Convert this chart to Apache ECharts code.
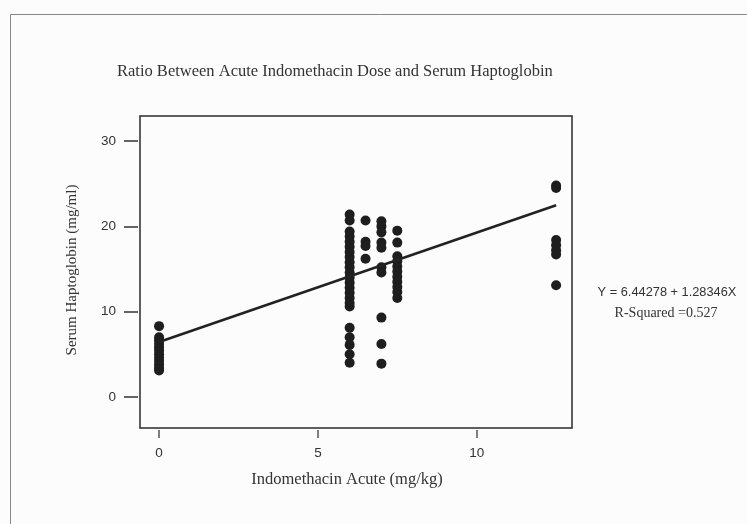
<!DOCTYPE html>
<html>
<head>
<meta charset="utf-8">
<script src="https://cdn.jsdelivr.net/npm/echarts@6/dist/echarts.min.js"></script>
<style>
  html, body { margin: 0; padding: 0; background: #fcfcfc; }
  #chart { width: 747px; height: 524px; }
</style>
</head>
<body>
<div id="chart"></div>
<script>
// Serum haptoglobin (mg/ml) by acute indomethacin dose (mg/kg)
const doses = [0, 6, 6.5, 7, 7.5, 12.5];
const dose0 = [8.3, 7.0, 6.6, 6.2, 5.8, 5.4, 5.0, 4.6, 4.2, 3.8, 3.4, 3.1];
const dose6 = [21.4, 20.7, 19.4, 18.8, 18.2, 17.6, 17.0, 16.4, 15.8, 15.2, 14.6, 14.0,
               13.4, 12.8, 12.2, 11.6, 11.0, 10.6, 8.1, 7.0, 6.1, 5.0, 4.0];
const dose6_5 = [20.7, 18.2, 17.7, 16.2];
const dose7 = [20.6, 20.0, 19.3, 18.1, 17.5, 15.2, 14.6, 9.3, 6.2, 3.9];
const dose7_5 = [19.5, 18.1, 16.5, 15.9, 15.3, 14.7, 14.1, 13.5, 12.9, 12.3, 11.6];
const dose12_5 = [24.8, 24.5, 18.4, 17.8, 17.2, 16.7, 13.1];
const groups = [dose0, dose6, dose6_5, dose7, dose7_5, dose12_5];

// Fitted line: Y = intercept + slope * X
const intercept = 6.44278;
const slope = 1.28346;
const rSquared = 0.527;
const fitRange = [0, 12.5];

const xTicks = [0, 5, 10];
const yTicks = [0, 10, 20, 30];

const points = [];
groups.forEach((vals, i) => vals.forEach(v => points.push([doses[i], v])));
const fitLine = fitRange.map(x => [x, intercept + slope * x]);

const serif = '"Liberation Serif", "DejaVu Serif", serif';
const sans = '"Liberation Sans", Arial, sans-serif';

const chart = echarts.init(document.getElementById('chart'));
chart.setOption({
  backgroundColor: '#fcfcfc',
  animation: false,
  grid: {
    left: 140, top: 116, right: 175, bottom: 96,
    show: true, borderColor: '#2a2a2a', borderWidth: 1.5, backgroundColor: 'transparent'
  },
  xAxis: {
    type: 'value', min: -0.6, max: 13.0, offset: 2,
    splitLine: { show: false },
    axisLine: { show: false, onZero: false },
    axisTick: { show: true, length: 8, lineStyle: { color: '#555', width: 1.5 }, customValues: xTicks },
    axisLabel: { color: '#333', fontFamily: sans, fontSize: 13.5, margin: 16, customValues: xTicks }
  },
  yAxis: {
    type: 'value', min: -3.65, max: 32.95, offset: 2,
    splitLine: { show: false },
    axisLine: { show: false, onZero: false },
    axisTick: { show: true, length: 14, lineStyle: { color: '#333', width: 1.5 }, customValues: yTicks },
    axisLabel: { color: '#333', fontFamily: sans, fontSize: 13.5, margin: 22, customValues: yTicks }
  },
  series: [
    {
      type: 'scatter', data: points, symbolSize: 10,
      itemStyle: { color: '#1e1e1e', opacity: 1 }
    },
    {
      type: 'line', data: fitLine, symbol: 'none', z: 3,
      lineStyle: { color: '#222', width: 2.5 }
    }
  ],
  graphic: [
    { type: 'rect', left: 8, top: 12, shape: { width: 760, height: 540 },
      style: { fill: 'none', stroke: '#888', lineWidth: 1 }, silent: true },
    { type: 'text', x: 117, y: 72,
      style: { text: 'Ratio Between Acute Indomethacin Dose and Serum Haptoglobin',
               font: '16.5px ' + serif, fill: '#333', verticalAlign: 'middle' } },
    { type: 'text', x: 72, y: 270, rotation: Math.PI / 2,
      style: { text: 'Serum Haptoglobin (mg/ml)', font: '15px ' + serif, fill: '#333',
               align: 'center', verticalAlign: 'middle' } },
    { type: 'text', x: 347, y: 480,
      style: { text: 'Indomethacin Acute (mg/kg)', font: '16.5px ' + serif, fill: '#333',
               align: 'center', verticalAlign: 'middle' } },
    { type: 'text', x: 667, y: 292,
      style: { text: 'Y = ' + intercept + ' + ' + slope + 'X', font: '12.8px ' + sans, fill: '#333',
               align: 'center', verticalAlign: 'middle' } },
    { type: 'text', x: 666, y: 313,
      style: { text: 'R-Squared =' + rSquared, font: '14px ' + serif, fill: '#333',
               align: 'center', verticalAlign: 'middle' } }
  ]
});
</script>
</body>
</html>
